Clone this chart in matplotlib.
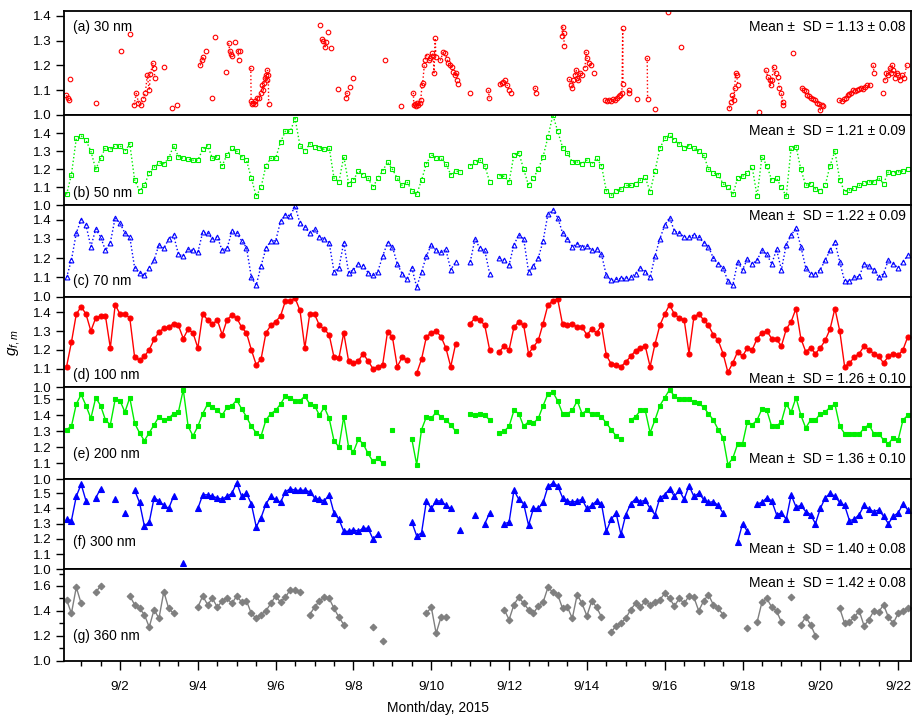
import numpy as np
import matplotlib.pyplot as plt
import matplotlib.ticker as ticker

plt.rcParams['font.family'] = ['Liberation Sans', 'DejaVu Sans']
plt.rcParams['mathtext.fontset'] = 'custom'
plt.rcParams['mathtext.it'] = 'Liberation Sans:italic'
plt.rcParams['mathtext.rm'] = 'Liberation Sans'

# sample times, day of September 2015, one value every 3 h
day = np.arange(0.625, 22.26, 0.125)

# 30 nm is sparse: (day, gf) pairs, None breaks the dotted line
pts_30 = [
    (0.62, 1.08), (0.65, 1.07), (0.68, 1.06), None, (0.72, 1.145), None,
    (1.37, 1.05), None, (2.02, 1.26), None, (2.26, 1.325), None,
    (2.36, 1.04), (2.42, 1.09), (2.47, 1.05), (2.53, 1.04), (2.60, 1.065), (2.65, 1.09),
    (2.70, 1.16), (2.75, 1.10), (2.78, 1.165), (2.84, 1.21), (2.86, 1.19), (2.90, 1.15), None,
    (3.13, 1.195), None, (3.34, 1.027), None, (3.46, 1.04), None,
    (4.06, 1.20), (4.10, 1.22), (4.14, 1.235), None, (4.20, 1.26), None, (4.37, 1.07), None,
    (4.43, 1.313), None, (4.72, 1.175), None,
    (4.79, 1.29), (4.82, 1.26), (4.86, 1.245), (4.88, 1.24), None, (4.96, 1.293), None,
    (5.03, 1.26), (5.05, 1.22), None, (5.08, 1.26), None,
    (5.36, 1.19), (5.37, 1.055), (5.40, 1.045), (5.43, 1.05), (5.46, 1.045), (5.48, 1.055),
    (5.52, 1.07), (5.58, 1.07), (5.62, 1.09), (5.66, 1.12), (5.68, 1.10), (5.70, 1.13),
    (5.73, 1.15), (5.75, 1.16), (5.77, 1.14), (5.79, 1.18), (5.81, 1.16), (5.82, 1.045), None,
    (7.14, 1.363), None,
    (7.20, 1.306), (7.21, 1.30), (7.27, 1.275), (7.30, 1.295), None, (7.34, 1.336), None,
    (7.42, 1.27), None, (7.61, 1.105), None, (7.81, 1.07), (7.84, 1.09), None,
    (7.91, 1.113), None, (7.99, 1.148), None, (8.82, 1.222), None, (9.23, 1.036), None,
    (9.54, 1.09), (9.55, 1.04), (9.58, 1.045), (9.61, 1.035), (9.64, 1.05), (9.67, 1.04),
    (9.70, 1.05), (9.73, 1.06), (9.76, 1.12), (9.78, 1.13), (9.82, 1.20), (9.84, 1.22),
    (9.88, 1.24), (9.93, 1.22), (9.97, 1.23), (10.01, 1.25), (10.05, 1.24), (10.07, 1.17),
    (10.10, 1.31), (10.12, 1.235), None,
    (10.23, 1.22), (10.31, 1.255), (10.36, 1.25), (10.40, 1.225), (10.44, 1.21), (10.48, 1.20),
    (10.53, 1.195), (10.57, 1.175), (10.61, 1.16), (10.64, 1.17), (10.66, 1.14), (10.68, 1.127), None,
    (11.00, 1.09), None, (11.47, 1.10), (11.49, 1.067), None,
    (11.77, 1.125), (11.81, 1.13), (11.85, 1.135), (11.90, 1.14), (11.95, 1.12), (12.00, 1.10),
    (12.05, 1.09), None, (12.67, 1.11), (12.68, 1.09), None,
    (13.35, 1.32), (13.38, 1.355), (13.40, 1.33), (13.42, 1.28), None,
    (13.55, 1.145), (13.58, 1.12), (13.61, 1.11), (13.65, 1.14), (13.70, 1.16), (13.73, 1.18),
    (13.75, 1.15), (13.78, 1.14), (13.82, 1.17), (13.87, 1.16), None,
    (13.95, 1.19), (13.98, 1.255), (14.00, 1.23), (14.05, 1.21), (14.10, 1.20), None,
    (14.19, 1.17), None,
    (14.47, 1.06), (14.52, 1.055), (14.57, 1.06), (14.62, 1.055), (14.67, 1.065), (14.72, 1.06),
    (14.77, 1.07), (14.82, 1.075), (14.86, 1.08), (14.90, 1.09), (14.92, 1.35), (14.93, 1.125), None,
    (15.07, 1.10), (15.08, 1.09), None, (15.30, 1.065), None, (15.55, 1.23), (15.56, 1.065), None,
    (15.74, 1.024), None, (16.08, 1.417), None, (16.42, 1.274), None,
    (17.66, 1.027), (17.70, 1.054), (17.74, 1.08), (17.77, 1.06), (17.80, 1.107), (17.82, 1.17),
    (17.85, 1.16), (17.88, 1.12), None, (18.42, 1.013), None,
    (18.60, 1.18), (18.65, 1.155), (18.70, 1.14), (18.72, 1.12), (18.75, 1.14), (18.80, 1.195),
    (18.85, 1.168), (18.90, 1.155), (18.95, 1.11), (19.00, 1.087), (19.03, 1.054), (19.05, 1.04), None,
    (19.31, 1.251), None,
    (19.52, 1.11), (19.57, 1.10), (19.62, 1.095), (19.67, 1.08), (19.72, 1.075), (19.77, 1.07),
    (19.82, 1.065), (19.87, 1.06), (19.92, 1.05), (19.97, 1.045), (20.00, 1.02), (20.05, 1.04),
    (20.08, 1.035), None,
    (20.49, 1.06), (20.55, 1.055), (20.60, 1.065), (20.65, 1.07), (20.70, 1.08), (20.75, 1.085),
    (20.80, 1.09), (20.85, 1.10), (20.90, 1.095), (20.95, 1.10), (21.00, 1.105), (21.05, 1.11),
    (21.10, 1.105), (21.15, 1.115), (21.20, 1.12), (21.28, 1.12), None,
    (21.36, 1.20), (21.38, 1.17), None, (21.62, 1.09), None,
    (21.66, 1.14), (21.70, 1.17), (21.74, 1.16), (21.78, 1.19), (21.82, 1.17), (21.85, 1.20),
    (21.88, 1.18), (21.92, 1.15), (21.96, 1.17), (22.00, 1.16), (22.05, 1.14), (22.10, 1.16),
    (22.15, 1.15), (22.22, 1.20),
]

# the other sizes on the 3 h grid, one row per day (first and last rows partial)
g_50 = [
    1.06, 1.17, 1.37,
    1.385, 1.36, 1.30, 1.20, 1.26, 1.32, 1.31, 1.33,
    1.33, 1.30, 1.34, 1.14, 1.08, 1.11, 1.18, 1.21,
    1.235, 1.23, 1.26, 1.33, 1.27, 1.26, 1.255, 1.25,
    1.25, 1.31, 1.33, 1.26, 1.27, 1.22, 1.28, 1.315,
    1.30, 1.27, 1.25, 1.15, 1.05, 1.10, 1.22, 1.26,
    1.26, 1.35, 1.41, 1.41, 1.48, 1.33, 1.30, 1.34,
    1.325, 1.32, 1.31, 1.32, 1.15, 1.13, 1.27, 1.12,
    1.14, 1.19, 1.17, 1.15, 1.10, 1.15, 1.19, 1.24,
    1.20, 1.15, 1.11, 1.13, 1.08, 1.06, 1.14, 1.23,
    1.28, 1.26, 1.26, 1.23, 1.17, 1.19, 1.185, None,
    1.22, 1.24, 1.25, 1.22, 1.13, None, 1.165, 1.16,
    1.13, 1.28, 1.29, 1.20, 1.11, 1.15, 1.20, 1.27,
    1.38, 1.50, 1.41, 1.32, 1.29, 1.24, 1.24, 1.23,
    1.25, 1.23, 1.26, 1.22, 1.08, 1.055, 1.08, 1.09,
    1.11, 1.11, 1.12, 1.14, 1.155, 1.075, 1.19, 1.315,
    1.37, 1.39, 1.36, 1.34, 1.32, 1.33, 1.315, 1.30,
    1.28, 1.20, 1.18, 1.17, 1.12, 1.10, 1.06, 1.15,
    1.16, 1.18, 1.21, 1.05, 1.27, 1.22, 1.14, 1.15,
    1.10, 1.05, 1.32, 1.325, 1.20, 1.11, 1.12, 1.09,
    1.08, 1.11, 1.22, 1.30, 1.14, 1.075, 1.085, 1.095,
    1.11, 1.125, 1.13, 1.13, 1.15, 1.12, 1.185, 1.18,
    1.185, 1.19, 1.20,
]

g_70 = [
    1.10, 1.19, 1.33,
    1.40, 1.37, 1.26, 1.35, 1.31, 1.24, 1.28, 1.41,
    1.38, 1.33, 1.31, 1.15, 1.125, 1.11, 1.15, 1.19,
    1.27, 1.25, 1.30, 1.32, 1.22, 1.21, 1.245, 1.24,
    1.23, 1.335, 1.33, 1.30, 1.31, 1.24, 1.25, 1.34,
    1.33, 1.29, 1.255, 1.10, 1.06, 1.16, 1.25, 1.29,
    1.29, 1.39, 1.425, 1.42, 1.47, 1.38, 1.36, 1.33,
    1.35, 1.31, 1.30, 1.28, 1.13, 1.15, 1.28, 1.125,
    1.14, 1.17, 1.16, 1.125, 1.11, 1.13, 1.21, 1.28,
    1.26, 1.17, 1.12, 1.09, 1.15, 1.05, 1.13, 1.21,
    1.27, 1.24, 1.23, 1.245, 1.14, 1.18, None, None,
    1.18, 1.30, 1.25, 1.24, 1.12, None, 1.20, 1.19,
    1.165, 1.27, 1.32, 1.30, 1.13, 1.16, 1.20, 1.29,
    1.43, 1.45, 1.41, 1.33, 1.30, 1.26, 1.275, 1.26,
    1.265, 1.24, 1.245, 1.22, 1.11, 1.085, 1.09, 1.095,
    1.095, 1.10, 1.12, 1.15, 1.13, 1.10, 1.21, 1.30,
    1.37, 1.41, 1.34, 1.33, 1.31, 1.31, 1.32, 1.31,
    1.28, 1.26, 1.20, 1.17, 1.15, 1.08, 1.06, 1.18,
    1.14, 1.195, 1.17, 1.19, 1.24, 1.22, 1.17, 1.245,
    1.14, 1.27, 1.32, 1.355, 1.26, 1.15, 1.12, 1.12,
    1.14, 1.19, 1.24, 1.285, 1.18, 1.08, 1.08, 1.10,
    1.105, 1.17, 1.16, 1.14, 1.10, 1.12, 1.19, 1.17,
    1.15, 1.18, 1.215,
]

g_100 = [
    1.11, 1.24, 1.39,
    1.43, 1.39, 1.30, 1.37, 1.38, 1.38, 1.21, 1.44,
    1.39, 1.39, 1.37, 1.16, 1.145, 1.165, 1.20, 1.255,
    1.295, 1.315, 1.32, 1.34, 1.33, 1.26, 1.31, 1.29,
    1.21, 1.39, 1.36, 1.335, 1.36, 1.28, 1.36, 1.385,
    1.37, 1.32, 1.29, 1.20, 1.12, 1.15, 1.29, 1.33,
    1.35, 1.38, 1.46, 1.46, 1.475, 1.41, 1.21, 1.39,
    1.39, 1.33, 1.31, 1.28, 1.16, 1.155, 1.29, 1.14,
    1.13, 1.14, 1.18, 1.14, 1.10, 1.11, 1.12, 1.295,
    1.27, 1.11, 1.16, 1.145, None, 1.075, 1.15, 1.27,
    1.29, 1.30, 1.27, 1.21, 1.11, 1.23, None, None,
    1.34, 1.37, 1.36, 1.33, 1.20, None, 1.19, 1.22,
    1.20, 1.32, 1.35, 1.33, 1.18, 1.215, 1.25, 1.34,
    1.44, 1.46, 1.47, 1.335, 1.33, 1.34, 1.32, 1.32,
    1.28, 1.31, 1.29, 1.33, 1.17, 1.125, 1.12, 1.11,
    1.135, 1.165, 1.195, 1.21, 1.22, 1.11, 1.23, 1.33,
    1.39, 1.44, 1.39, 1.37, 1.36, 1.18, 1.375, 1.39,
    1.36, 1.33, 1.28, 1.25, 1.18, 1.08, 1.13, 1.19,
    1.165, 1.21, 1.20, 1.26, 1.29, 1.30, 1.26, 1.255,
    1.22, 1.31, 1.35, 1.42, 1.26, 1.19, 1.21, 1.18,
    1.21, 1.25, 1.31, 1.42, 1.30, 1.11, 1.13, 1.16,
    1.18, 1.22, 1.20, 1.18, 1.165, 1.13, 1.165, 1.18,
    1.17, 1.20, 1.27,
]

g_200 = [
    1.31, 1.33, 1.47,
    1.53, 1.46, 1.38, 1.51, 1.46, 1.37, 1.34, 1.50,
    1.49, 1.42, 1.51, 1.35, 1.29, 1.24, 1.29, 1.34,
    1.39, 1.37, 1.38, 1.41, 1.42, 1.56, 1.33, 1.27,
    1.33, 1.41, 1.47, 1.45, 1.43, 1.40, 1.45, 1.46,
    1.495, 1.44, 1.39, 1.33, 1.29, 1.27, 1.37, 1.41,
    1.43, 1.47, 1.52, 1.51, 1.49, 1.49, 1.52, 1.47,
    1.46, 1.40, 1.45, 1.38, 1.24, 1.20, 1.39, 1.20,
    1.17, 1.25, 1.22, 1.16, 1.11, 1.13, 1.10, None,
    1.305, None, None, None, 1.25, 1.09, 1.31, 1.39,
    1.38, 1.42, 1.39, 1.37, 1.34, 1.30, None, None,
    1.41, 1.40, 1.41, 1.40, 1.37, None, 1.29, 1.30,
    1.33, 1.43, 1.41, 1.33, 1.36, 1.35, 1.38, 1.46,
    1.535, 1.545, 1.49, 1.41, 1.41, 1.43, 1.49, 1.41,
    1.43, 1.405, 1.41, 1.39, 1.35, 1.31, 1.27, 1.25,
    None, 1.37, 1.39, 1.43, 1.43, 1.29, 1.37, 1.46,
    1.51, 1.56, 1.52, 1.50, 1.50, 1.50, 1.48, 1.475,
    1.45, 1.41, 1.37, 1.31, 1.26, 1.09, 1.13, 1.22,
    1.22, 1.36, 1.34, 1.37, 1.44, 1.43, 1.33, 1.33,
    1.36, 1.47, 1.42, 1.51, 1.40, 1.32, 1.37, 1.37,
    1.41, 1.42, 1.45, 1.47, 1.33, 1.285, 1.285, 1.285,
    1.28, 1.32, 1.34, 1.285, 1.285, 1.245, 1.22, 1.26,
    1.245, 1.37, 1.40,
]

g_300 = [
    1.33, 1.32, 1.48,
    1.56, 1.45, None, 1.47, 1.53, None, None, 1.46,
    None, 1.37, None, 1.52, 1.44, 1.285, 1.31, 1.47,
    1.45, 1.42, 1.40, 1.48, None, 1.04, None, None,
    1.40, 1.49, 1.49, 1.48, 1.47, 1.46, 1.48, 1.50,
    1.57, 1.48, 1.50, 1.43, 1.28, 1.34, 1.43, 1.48,
    1.46, 1.44, 1.51, 1.53, 1.52, 1.52, 1.52, 1.51,
    1.47, 1.46, 1.45, 1.49, 1.37, 1.33, 1.25, 1.25,
    1.26, 1.25, 1.27, 1.27, 1.20, 1.23, None, None,
    None, None, None, None, 1.31, 1.22, 1.24, 1.45,
    1.40, 1.45, 1.45, 1.42, 1.40, None, 1.26, None,
    None, 1.36, None, 1.30, 1.37, None, None, 1.30,
    1.31, 1.52, 1.46, 1.43, 1.29, 1.40, 1.40, 1.44,
    1.545, 1.566, 1.55, 1.47, 1.45, 1.44, 1.45, 1.46,
    1.40, 1.42, 1.45, 1.43, 1.25, 1.33, 1.37, 1.23,
    1.36, 1.43, 1.465, 1.445, 1.455, 1.40, 1.36, 1.47,
    1.49, 1.53, 1.48, 1.52, 1.46, 1.55, 1.48, 1.50,
    1.46, 1.44, 1.445, 1.42, 1.37, None, None, 1.18,
    1.30, 1.25, None, 1.43, 1.44, 1.47, 1.45, 1.36,
    1.37, 1.33, 1.49, 1.41, 1.42, 1.38, 1.36, 1.30,
    1.40, 1.47, 1.50, 1.48, 1.44, 1.42, 1.32, 1.33,
    1.36, 1.42, 1.395, 1.38, 1.39, 1.35, 1.30, 1.35,
    1.37, 1.43, 1.39,
]

g_360 = [
    1.49, 1.38, 1.59,
    1.46, None, None, 1.55, 1.60, None, None, None,
    None, None, 1.52, 1.45, 1.42, 1.37, 1.27, 1.41,
    1.34, 1.555, 1.42, 1.38, None, None, None, None,
    1.43, 1.52, 1.45, 1.50, 1.43, 1.48, 1.50, 1.46,
    1.52, 1.47, 1.48, 1.38, 1.34, 1.37, 1.40, 1.46,
    1.52, 1.47, 1.51, 1.57, 1.57, 1.55, None, 1.37,
    1.43, 1.48, 1.51, 1.50, 1.42, 1.35, 1.29, None,
    None, None, None, None, 1.27, None, 1.16, None,
    None, None, None, None, None, None, None, 1.38,
    1.43, 1.22, 1.35, 1.35, None, None, None, None,
    None, None, None, None, None, None, None, 1.41,
    1.33, 1.45, 1.51, 1.46, 1.41, 1.38, 1.44, 1.47,
    1.59, 1.55, 1.53, 1.42, 1.43, 1.34, 1.53, 1.46,
    1.36, 1.48, 1.43, 1.35, None, 1.23, 1.28, 1.30,
    1.34, 1.41, 1.46, 1.43, 1.48, 1.45, 1.47, 1.49,
    1.54, 1.50, 1.44, 1.50, 1.46, 1.52, 1.51, 1.40,
    1.48, 1.53, 1.45, 1.42, 1.37, None, None, None,
    None, 1.26, None, 1.31, 1.47, 1.50, 1.43, 1.40,
    1.31, None, 1.51, None, 1.29, 1.35, 1.29, 1.20,
    None, None, None, None, 1.42, 1.30, 1.31, 1.35,
    1.40, 1.28, 1.33, 1.40, 1.39, 1.45, 1.35, 1.30,
    1.38, 1.40, 1.42,
]

labels = ['(a) 30 nm', '(b) 50 nm', '(c) 70 nm', '(d) 100 nm',
          '(e) 200 nm', '(f) 300 nm', '(g) 360 nm']
mean_sd = ['1.13 ± 0.08', '1.21 ± 0.09', '1.22 ± 0.09', '1.26 ± 0.10',
           '1.36 ± 0.10', '1.40 ± 0.08', '1.42 ± 0.08']

t30 = np.array([p[0] if p else np.nan for p in pts_30])
v30 = np.array([p[1] if p else np.nan for p in pts_30])
series = [(t30, v30)]
for vals in [g_50, g_70, g_100, g_200, g_300, g_360]:
    series.append((day, np.array(vals, dtype=float)))

# colour, marker, open/filled, line style, marker size
styles = [('#ff0000', 'o', False, ':', 3.3),
          ('#00ee00', 's', False, ':', 3.2),
          ('#0000ff', '^', False, ':', 3.5),
          ('#ff0000', 'o', True, '-', 3.6),
          ('#00ee00', 's', True, '-', 3.4),
          ('#0000ff', '^', True, '-', 4.0),
          ('#7f7f7f', 'D', True, '-', 3.4)]
ytop = [1.421, 1.50, 1.474, 1.483, 1.575, 1.594, 1.734]
ytick_max = [1.4, 1.4, 1.4, 1.4, 1.5, 1.5, 1.6]
label_y = [0.847, 0.14, 0.17, 0.136, 0.27, 0.306, 0.274]
mean_y = [0.847, 0.823, 0.883, 0.088, 0.215, 0.22, 0.847]

fig, axes = plt.subplots(7, 1, sharex=True, figsize=(9.16, 7.18), dpi=100,
                         gridspec_kw={'height_ratios': [104.3, 90.3, 91.4, 90.6, 91.7, 90.3, 91.4],
                                      'hspace': 0})
fig.subplots_adjust(left=0.0699, right=0.9945, top=0.9851, bottom=0.0798)

for i, ax in enumerate(axes):
    t, v = series[i]
    col, mk, filled, ls, ms = styles[i]
    ax.plot(t, v, linestyle=ls, linewidth=1.0, color=col, marker=mk, markersize=ms,
            markerfacecolor=col if filled else 'none', markeredgecolor=col,
            markeredgewidth=0.8)
    ax.set_ylim(1.0, ytop[i])
    if i == 6:
        ax.set_yticks([1.0, 1.2, 1.4, 1.6])
        ax.set_yticks(np.arange(1.1, 1.75, 0.2), minor=True)
    else:
        ax.set_yticks(np.arange(1.0, ytick_max[i] + 0.01, 0.1))
    ax.yaxis.set_major_formatter(ticker.FormatStrFormatter('%.1f'))
    ax.tick_params(axis='y', which='major', direction='out', length=6, width=1.0,
                   labelsize=9.6, pad=3)
    ax.tick_params(axis='y', which='minor', direction='out', length=3.5, width=1.0)
    ax.tick_params(axis='x', which='both', bottom=(i == 6), labelbottom=(i == 6))
    for s in ax.spines.values():
        s.set_linewidth(1.3)
    ax.text(0.0103, label_y[i], labels[i], transform=ax.transAxes,
            ha='left', va='center', fontsize=9.9)
    ax.text(0.9937, mean_y[i], 'Mean ±  SD = ' + mean_sd[i], transform=ax.transAxes,
            ha='right', va='center', fontsize=9.9)

ax = axes[-1]
ax.set_xlim(0.56, 22.33)
ax.xaxis.set_major_locator(ticker.MultipleLocator(2))
ax.xaxis.set_minor_locator(ticker.MultipleLocator(0.5))
ax.xaxis.set_major_formatter(ticker.FuncFormatter(lambda x, p: '9/%d' % round(x)))
ax.tick_params(axis='x', which='major', direction='out', length=6.5, width=1.0,
               labelsize=9.6, pad=8)
ax.tick_params(axis='x', which='minor', direction='out', length=3.5, width=1.0)

fig.text(0.4782, 0.0139, 'Month/day, 2015', ha='center', va='center', fontsize=9.9)
fig.text(14 / 916, 1 - 343 / 718, r'$g_{f,m}$', rotation=90,
         ha='center', va='center', fontsize=11)

plt.savefig('out.png', dpi=100)
